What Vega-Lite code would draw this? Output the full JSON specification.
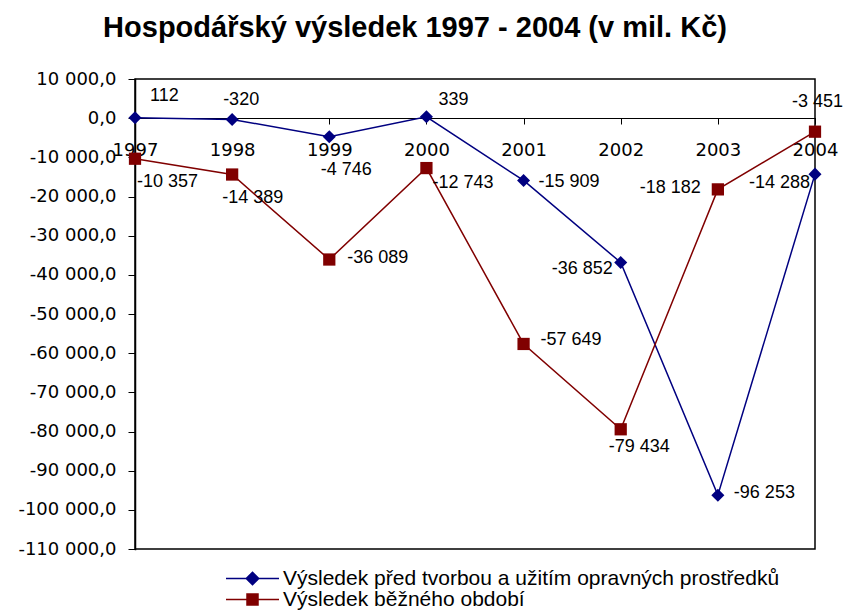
{
  "$schema": "https://vega.github.io/schema/vega-lite/v6.json",
  "width": 680,
  "height": 470,
  "autosize": {"type": "none"},
  "padding": {"left": 135, "top": 79, "right": 29, "bottom": 62},
  "background": "white",
  "title": {
    "text": "Hospodářský výsledek 1997 - 2004 (v mil. Kč)",
    "font": "Liberation Sans",
    "fontSize": 29,
    "fontWeight": "bold",
    "color": "black",
    "anchor": "middle",
    "frame": "group",
    "dx": -60,
    "baseline": "alphabetic",
    "offset": 4
  },
  "data": {
    "values": [
      {"year": "1997", "code": "A", "series": "Výsledek před tvorbou a užitím opravných prostředků", "value": 112},
      {"year": "1998", "code": "A", "series": "Výsledek před tvorbou a užitím opravných prostředků", "value": -320},
      {"year": "1999", "code": "A", "series": "Výsledek před tvorbou a užitím opravných prostředků", "value": -4746},
      {"year": "2000", "code": "A", "series": "Výsledek před tvorbou a užitím opravných prostředků", "value": 339},
      {"year": "2001", "code": "A", "series": "Výsledek před tvorbou a užitím opravných prostředků", "value": -15909},
      {"year": "2002", "code": "A", "series": "Výsledek před tvorbou a užitím opravných prostředků", "value": -36852},
      {"year": "2003", "code": "A", "series": "Výsledek před tvorbou a užitím opravných prostředků", "value": -96253},
      {"year": "2004", "code": "A", "series": "Výsledek před tvorbou a užitím opravných prostředků", "value": -14288},
      {"year": "1997", "code": "B", "series": "Výsledek běžného období", "value": -10357},
      {"year": "1998", "code": "B", "series": "Výsledek běžného období", "value": -14389},
      {"year": "1999", "code": "B", "series": "Výsledek běžného období", "value": -36089},
      {"year": "2000", "code": "B", "series": "Výsledek běžného období", "value": -12743},
      {"year": "2001", "code": "B", "series": "Výsledek běžného období", "value": -57649},
      {"year": "2002", "code": "B", "series": "Výsledek běžného období", "value": -79434},
      {"year": "2003", "code": "B", "series": "Výsledek běžného období", "value": -18182},
      {"year": "2004", "code": "B", "series": "Výsledek běžného období", "value": -3451}
    ]
  },
  "encoding": {
    "x": {
      "field": "year", "type": "ordinal",
      "scale": {"type": "point", "padding": 0},
      "axis": {
        "title": null, "labelAngle": 0, "offset": -431,
        "domainColor": "black", "domainWidth": 1,
        "tickColor": "black", "tickSize": 6, "tickWidth": 1,
        "labelFont": "DejaVu Sans", "labelFontSize": 18, "labelColor": "black",
        "labelPadding": 17, "labelOverlap": false, "labelBound": false, "labelFlush": false,
        "grid": false
      }
    },
    "y": {
      "field": "value", "type": "quantitative",
      "scale": {"domain": [-110000, 10000], "nice": false, "zero": false},
      "axis": {
        "title": null, "format": ",.1f",
        "values": [10000, 0, -10000, -20000, -30000, -40000, -50000, -60000, -70000, -80000, -90000, -100000, -110000],
        "domainColor": "black", "domainWidth": 1.5,
        "tickColor": "black", "tickSize": 7, "tickWidth": 1,
        "labelFont": "DejaVu Sans", "labelFontSize": 18, "labelColor": "black",
        "labelPadding": 12, "grid": false
      }
    }
  },
  "layer": [
    {
      "mark": {"type": "line", "strokeWidth": 1.5},
      "encoding": {
        "color": {
          "field": "series", "type": "nominal",
          "scale": {
            "domain": ["Výsledek před tvorbou a užitím opravných prostředků", "Výsledek běžného období"],
            "range": ["#000080", "#800000"]
          },
          "legend": {
            "title": null, "orient": "none", "legendX": 107, "legendY": 489,
            "direction": "vertical", "padding": 0, "rowPadding": -1,
            "symbolSize": 100, "symbolStrokeWidth": 1.5, "labelOffset": 20,
            "labelFont": "Liberation Sans", "labelFontSize": 21, "labelColor": "black",
            "labelLimit": 700,
            "encode": {
              "symbols": {
                "update": {
                  "shape": {"signal": "datum.index === 0 ? 'M-5.3,0H5.3M0,-1.25L1.25,0L0,1.25L-1.25,0Z' : 'M-5.3,0H5.3M-1.1,-1.1H1.1V1.1H-1.1Z'"},
                  "fill": {"signal": "datum.index === 0 ? '#000080' : '#800000'"},
                  "stroke": {"signal": "datum.index === 0 ? '#000080' : '#800000'"},
                  "strokeWidth": {"value": 1.5}
                }
              }
            }
          }
        }
      }
    },
    {
      "transform": [{"filter": "datum.code=='A'"}],
      "mark": {"type": "point", "filled": true, "size": 170, "opacity": 1, "shape": "diamond", "color": "#000080"}
    },
    {
      "transform": [{"filter": "datum.code=='B'"}],
      "mark": {"type": "point", "filled": true, "size": 150, "opacity": 1, "shape": "square", "color": "#800000"}
    },
    {"transform": [{"filter": "datum.code=='A'&&datum.year=='1997'"}], "mark": {"type": "text", "align": "left", "baseline": "middle", "dx": 15, "dy": -22, "font": "Liberation Sans", "fontSize": 18, "color": "black"}, "encoding": {"text": {"field": "value", "format": ",d"}}},
    {"transform": [{"filter": "datum.code=='A'&&datum.year=='1998'"}], "mark": {"type": "text", "align": "center", "baseline": "middle", "dx": 9, "dy": -19, "font": "Liberation Sans", "fontSize": 18, "color": "black"}, "encoding": {"text": {"field": "value", "format": ",d"}}},
    {"transform": [{"filter": "datum.code=='A'&&datum.year=='1999'"}], "mark": {"type": "text", "align": "center", "baseline": "middle", "dx": 17, "dy": 33, "font": "Liberation Sans", "fontSize": 18, "color": "black"}, "encoding": {"text": {"field": "value", "format": ",d"}}},
    {"transform": [{"filter": "datum.code=='A'&&datum.year=='2000'"}], "mark": {"type": "text", "align": "left", "baseline": "middle", "dx": 12, "dy": -17, "font": "Liberation Sans", "fontSize": 18, "color": "black"}, "encoding": {"text": {"field": "value", "format": ",d"}}},
    {"transform": [{"filter": "datum.code=='A'&&datum.year=='2001'"}], "mark": {"type": "text", "align": "left", "baseline": "middle", "dx": 15, "dy": 2, "font": "Liberation Sans", "fontSize": 18, "color": "black"}, "encoding": {"text": {"field": "value", "format": ",d"}}},
    {"transform": [{"filter": "datum.code=='A'&&datum.year=='2002'"}], "mark": {"type": "text", "align": "right", "baseline": "middle", "dx": -8, "dy": 6, "font": "Liberation Sans", "fontSize": 18, "color": "black"}, "encoding": {"text": {"field": "value", "format": ",d"}}},
    {"transform": [{"filter": "datum.code=='A'&&datum.year=='2003'"}], "mark": {"type": "text", "align": "left", "baseline": "middle", "dx": 16, "dy": -2, "font": "Liberation Sans", "fontSize": 18, "color": "black"}, "encoding": {"text": {"field": "value", "format": ",d"}}},
    {"transform": [{"filter": "datum.code=='A'&&datum.year=='2004'"}], "mark": {"type": "text", "align": "right", "baseline": "middle", "dx": -5, "dy": 9, "font": "Liberation Sans", "fontSize": 18, "color": "black"}, "encoding": {"text": {"field": "value", "format": ",d"}}},
    {"transform": [{"filter": "datum.code=='B'&&datum.year=='1997'"}], "mark": {"type": "text", "align": "left", "baseline": "middle", "dx": 2, "dy": 23, "font": "Liberation Sans", "fontSize": 18, "color": "black"}, "encoding": {"text": {"field": "value", "format": ",d"}}},
    {"transform": [{"filter": "datum.code=='B'&&datum.year=='1998'"}], "mark": {"type": "text", "align": "left", "baseline": "middle", "dx": -10, "dy": 23, "font": "Liberation Sans", "fontSize": 18, "color": "black"}, "encoding": {"text": {"field": "value", "format": ",d"}}},
    {"transform": [{"filter": "datum.code=='B'&&datum.year=='1999'"}], "mark": {"type": "text", "align": "left", "baseline": "middle", "dx": 18, "dy": -2, "font": "Liberation Sans", "fontSize": 18, "color": "black"}, "encoding": {"text": {"field": "value", "format": ",d"}}},
    {"transform": [{"filter": "datum.code=='B'&&datum.year=='2000'"}], "mark": {"type": "text", "align": "left", "baseline": "middle", "dx": 6, "dy": 15, "font": "Liberation Sans", "fontSize": 18, "color": "black"}, "encoding": {"text": {"field": "value", "format": ",d"}}},
    {"transform": [{"filter": "datum.code=='B'&&datum.year=='2001'"}], "mark": {"type": "text", "align": "left", "baseline": "middle", "dx": 17, "dy": -4, "font": "Liberation Sans", "fontSize": 18, "color": "black"}, "encoding": {"text": {"field": "value", "format": ",d"}}},
    {"transform": [{"filter": "datum.code=='B'&&datum.year=='2002'"}], "mark": {"type": "text", "align": "left", "baseline": "middle", "dx": -12, "dy": 18, "font": "Liberation Sans", "fontSize": 18, "color": "black"}, "encoding": {"text": {"field": "value", "format": ",d"}}},
    {"transform": [{"filter": "datum.code=='B'&&datum.year=='2003'"}], "mark": {"type": "text", "align": "right", "baseline": "middle", "dx": -17, "dy": -1, "font": "Liberation Sans", "fontSize": 18, "color": "black"}, "encoding": {"text": {"field": "value", "format": ",d"}}},
    {"transform": [{"filter": "datum.code=='B'&&datum.year=='2004'"}], "mark": {"type": "text", "align": "left", "baseline": "middle", "dx": -23, "dy": -30, "font": "Liberation Sans", "fontSize": 18, "color": "black"}, "encoding": {"text": {"field": "value", "format": ",d"}}}
  ],
  "config": {
    "locale": {
      "number": {"decimal": ",", "thousands": " ", "grouping": [3], "currency": ["", " Kč"], "minus": "-"}
    },
    "view": {"stroke": "black", "strokeWidth": 1.5},
    "axis": {"domainCap": "square"}
  }
}
